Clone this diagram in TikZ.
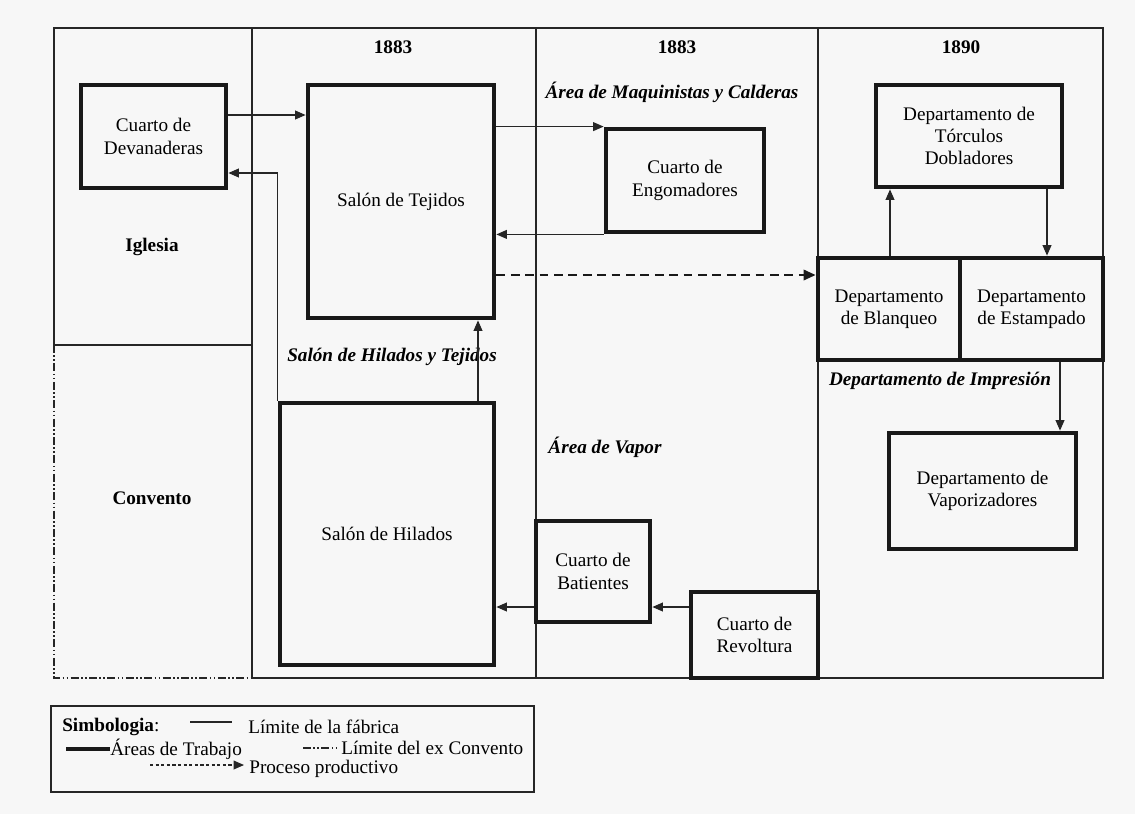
\documentclass[tikz,border=0pt]{standalone}
\usepackage{fontspec}
\setmainfont{Liberation Serif}
\usetikzlibrary{arrows.meta}

\begin{document}
\begin{tikzpicture}[x=0.625pt, y=-0.625pt,
        every node/.style={font=\fontsize{12}{14}\selectfont, text=black},
        wall/.style={draw=black!85, line width=0.7pt},
        convento/.style={draw=black!85, line width=0.8pt, dash pattern=on 5pt off 1.5pt on 1pt off 1.5pt on 1pt off 1.5pt},
        area/.style={draw=black!90, line width=3pt, align=center, inner sep=0pt},
        sala/.style 2 args={area, minimum width=#1*0.625pt, minimum height=#2*0.625pt},
        flow/.style={draw=black!85, line width=0.7pt, -{Triangle[length=6.5pt,width=5.5pt]}},
        flowdash/.style={draw=black!90, line width=1.4pt, dash pattern=on 5.5pt off 3.5pt, -{Triangle[length=7.5pt,width=6.5pt]}},
        year/.style={font=\fontsize{12}{14}\selectfont\bfseries},
        zone/.style={font=\fontsize{12}{14}\selectfont\bfseries\itshape}]

                \fill[black!3] (0,0) rectangle (1135,814);
                \useasboundingbox (0,0) rectangle (1135,814);

                \draw[wall] (54,345) -- (54,28) -- (1103,28) -- (1103,678) -- (252,678);
                \draw[wall] (54,345) -- (252,345);
                \draw[wall] (252,28) -- (252,678);
                \draw[wall] (536,28) -- (536,678);
                \draw[wall] (818,28) -- (818,678);
                \draw[convento] (54,345) -- (54,678) -- (252,678);

                \node[year] (a1883) at (393,47) {1883};
                \node[year] (b1883) at (677,47) {1883};
                \node[year] (a1890) at (961,47) {1890};
                \node[year] (igl) at (152,247) {Iglesia};
                \node[year] (conv) at (152,498) {Convento};
                \node[zone] (maq) at (672,92) {Área de Maquinistas y Calderas};
                \node[zone] (hyt) at (392,357) {Salón de Hilados y Tejidos};
                \node[zone] (vapor) at (605,447) {Área de Vapor};
                \node[zone] (impr) at (940,381) {Departamento de Impresión};

                \node[sala={145}{103}] (dev) at (153.5,136.5) {Cuarto de\\Devanaderas};
                \node[sala={186}{233}] (tej) at (401,201.5) {Salón de Tejidos};
                \node[sala={158}{103}] (eng) at (685,180.5) {Cuarto de\\Engomadores};
                \node[sala={214}{262}] (hil) at (387,534) {Salón de Hilados};
                \node[sala={114}{101}] (bat) at (593,571.5) {Cuarto de\\Batientes};
                \node[sala={127}{86}] (rev) at (754.5,635) {Cuarto de\\Revoltura};
                \node[sala={186}{102}] (tor) at (969,136) {Departamento de\\Tórculos\\Dobladores};
                \node[sala={142}{102}] (bla) at (889,309) {Departamento\\de Blanqueo};
                \node[sala={143}{102}] (est) at (1031.5,309) {Departamento\\de Estampado};
                \node[sala={187}{116}] (vap) at (982.5,491) {Departamento de\\Vaporizadores};

                \path (0,115) coordinate (r1) (0,173) coordinate (r2)
                      (0,275) coordinate (r3) (0,607) coordinate (r4)
                      (478,0) coordinate (c1) (890,0) coordinate (c2)
                      (1047,0) coordinate (c3) (1060,0) coordinate (c4);

                \draw[flow] (dev.east |- r1) -- (tej.west |- r1);
                \draw[flow] (hil.north west) |- (dev.east |- r2);
                \draw[flow] (tej.east |- eng.north west) -- (eng.north west);
                \draw[flow] (eng.south west) -- (tej.east |- eng.south west);
                \draw[flowdash] (tej.east |- r3) -- (bla.west |- r3);
                \draw[flow] (hil.north -| c1) -- (tej.south -| c1);
                \draw[flow] (rev.west |- r4) -- (bat.east |- r4);
                \draw[flow] (bat.west |- r4) -- (hil.east |- r4);
                \draw[flow] (bla.north -| c2) -- (tor.south -| c2);
                \draw[flow] (tor.south -| c3) -- (est.north -| c3);
                \draw[flow] (est.south -| c4) -- (vap.north -| c4);

                \draw[wall] (51,706) rectangle (534,792);
                \node[anchor=west, inner sep=0pt] (simb) at (62,727) {\textbf{Simbologia}:};
                \node[anchor=west, inner sep=0pt] (lfab) at (248,727) {Límite de la fábrica};
                \node[anchor=west, inner sep=0pt] (ltra) at (110,749) {Áreas de Trabajo};
                \node[anchor=west, inner sep=0pt] (lcon) at (341,748) {Límite del ex Convento};
                \node[anchor=west, inner sep=0pt] (lpro) at (249,769) {Proceso productivo};

                \coordinate (s1a) at (190,722);
                \coordinate (s1b) at (232,722);
                \coordinate (s2a) at (66,749);
                \coordinate (s3a) at (303,748);
                \coordinate (s3b) at (337,748);
                \coordinate (s4a) at (150,765);
                \coordinate (s4b) at (244,765);
                \draw[wall] (s1a) -- (s1b);
                \draw[draw=black!90, line width=3pt] (s2a) -- (ltra.west |- s2a);
                \draw[convento] (s3a) -- (s3b);
                \draw[draw=black!85, line width=0.7pt, dash pattern=on 2pt off 1.5pt, -{Triangle[length=6.5pt,width=5.5pt]}] (s4a) -- (s4b);
            \end{tikzpicture}
\end{document}
